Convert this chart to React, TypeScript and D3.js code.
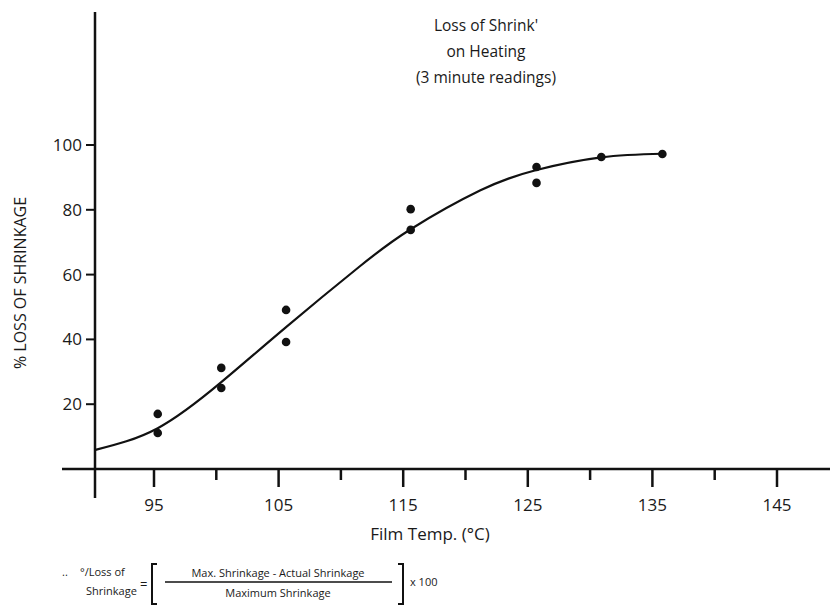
import React from "react";
import * as d3 from "d3";

const titleLines = ["Loss of Shrink'", "on Heating", "(3 minute readings)"];
const yTickValues = [20, 40, 60, 80, 100];
const xMajorTicks = [95, 105, 115, 125, 135, 145];
const xMinorTicks = [100, 110, 120, 130, 140];

// observed points: film temperature (°C) and % loss of shrinkage
const pointTemps = [95.3, 95.3, 100.4, 100.4, 105.6, 105.6, 115.6, 115.6, 125.7, 125.7, 130.9, 135.8];
const pointLoss = [17.0, 11.1, 31.2, 25.0, 49.1, 39.2, 80.2, 73.8, 93.2, 88.3, 96.3, 97.2];

// fitted curve
const curveTemps = [90.3, 95.3, 100.4, 105.6, 111.5, 115.6, 121.2, 125.7, 130.9, 135.8];
const curveLoss = [5.9, 12.6, 26.8, 43.8, 62.5, 74.0, 86.0, 92.3, 96.2, 97.3];

const W = 830;
const H = 608;
const FONT = "'Open Sans', 'DejaVu Sans', sans-serif";

export default function App() {
  const x = d3.scaleLinear().domain([95, 145]).range([154, 777]);
  const y = d3.scaleLinear().domain([0, 100]).range([469, 145]);
  const axisX = 95;
  const axisY = y(0);

  const line = d3
    .line<[number, number]>()
    .x((d) => x(d[0]))
    .y((d) => y(d[1]))
    .curve(d3.curveNatural);
  const curveData: [number, number][] = curveTemps.map((t, i) => [t, curveLoss[i]]);

  return (
    <svg
      width={W}
      height={H}
      viewBox={`0 0 ${W} ${H}`}
      style={{ position: "absolute", left: 0, top: 0, background: "#fff" }}
      fontFamily={FONT}
    >
      <rect x={0} y={0} width={W} height={H} fill="#fff" />
      {/* title */}
      {titleLines.map((t, i) => (
        <text key={t} x={486} y={31 + i * 26} textAnchor="middle" fontSize={15.5} fill="#1a1a1a">
          {t}
        </text>
      ))}

      {/* y axis */}
      <line x1={axisX} x2={axisX} y1={12} y2={498} stroke="#111" strokeWidth={2.5} />
      {yTickValues.map((v) => (
        <g key={v}>
          <line x1={86} x2={axisX} y1={y(v)} y2={y(v)} stroke="#111" strokeWidth={2} />
          <text x={82} y={y(v)} dy="0.35em" textAnchor="end" fontSize={17} fill="#1a1a1a">
            {v}
          </text>
        </g>
      ))}
      <text
        transform={`translate(20,283) rotate(-90)`}
        textAnchor="middle"
        dy="0.35em"
        fontSize={16}
        fill="#1a1a1a"
      >
        % LOSS OF SHRINKAGE
      </text>

      {/* x axis */}
      <line x1={62} x2={830} y1={axisY} y2={axisY} stroke="#111" strokeWidth={2.5} />
      {xMajorTicks.map((v) => (
        <g key={v}>
          <line x1={x(v)} x2={x(v)} y1={axisY} y2={axisY + 18} stroke="#111" strokeWidth={2.5} />
          <text x={x(v)} y={511} textAnchor="middle" fontSize={17} fill="#1a1a1a">
            {v}
          </text>
        </g>
      ))}
      {xMinorTicks.map((v) => (
        <line key={v} x1={x(v)} x2={x(v)} y1={axisY} y2={axisY + 11} stroke="#111" strokeWidth={2.5} />
      ))}
      <text x={430} y={540} textAnchor="middle" fontSize={17} fill="#1a1a1a">
        Film Temp. (°C)
      </text>

      {/* fitted curve */}
      <path d={line(curveData) || ""} fill="none" stroke="#111" strokeWidth={2.2} />

      {/* points */}
      {pointTemps.map((t, i) => (
        <circle key={i} cx={x(t)} cy={y(pointLoss[i])} r={4.3} fill="#111" />
      ))}

      {/* footnote formula */}
      <g fill="#1a1a1a" fontSize={11}>
        <text x={62} y={576}>..</text>
        <text x={80} y={576}>°/Loss of</text>
        <text x={86} y={595}>Shrinkage</text>
        <text x={140} y={589} fontSize={13}>=</text>
        <text x={278} y={577} textAnchor="middle">Max. Shrinkage - Actual Shrinkage</text>
        <text x={278} y={597} textAnchor="middle">Maximum Shrinkage</text>
        <text x={410} y={586}>x 100</text>
      </g>
      <line x1={165} x2={392} y1={582} y2={582} stroke="#111" strokeWidth={1.5} />
      <path d="M157,564 L152,564 L152,604 L157,604" fill="none" stroke="#111" strokeWidth={2} />
      <path d="M398,564 L403,564 L403,604 L398,604" fill="none" stroke="#111" strokeWidth={2} />
    </svg>
  );
}
